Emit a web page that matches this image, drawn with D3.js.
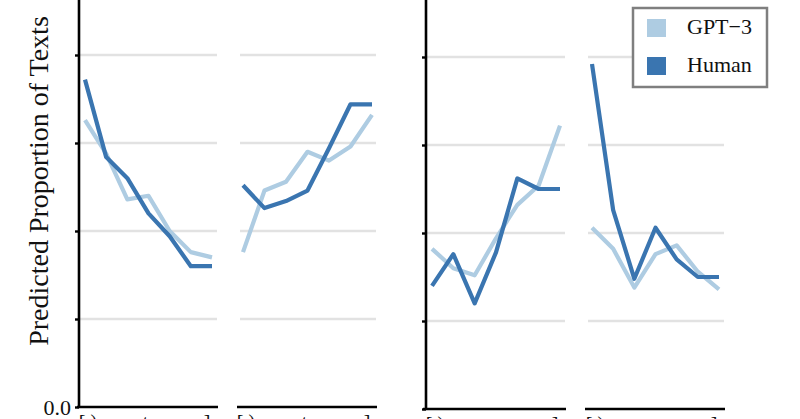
<!DOCTYPE html>
<html>
<head>
<meta charset="utf-8">
<script src="https://cdn.jsdelivr.net/npm/d3@7/dist/d3.min.js"></script>
<style>
  html, body { margin: 0; padding: 0; background: #fff; }
  svg { display: block; }
  text { font-family: "Liberation Serif", "DejaVu Serif", serif; fill: #111; }
</style>
</head>
<body>
<svg id="chart" width="800" height="419"></svg>
<script>
// ---- data ----
const categories = ["c1", "c2", "c3", "c4", "c5", "c6", "c7"];
const seriesNames = ["GPT\u22123", "Human"];
const yTickValues = [0, 0.05, 0.10, 0.15, 0.20];
const yTickLabels = ["0.0", "", "", "", ""];
const xTickCats = ["c1", "c4", "c7"];
const xTickLabels = ["[ )", "t", "]"];

const gpt3_p1  = [0.163, 0.144, 0.118, 0.120, 0.100, 0.088, 0.085];
const human_p1 = [0.186, 0.142, 0.130, 0.110, 0.097, 0.080, 0.080];
const gpt3_p2  = [0.088, 0.123, 0.128, 0.145, 0.140, 0.148, 0.166];
const human_p2 = [0.126, 0.113, 0.117, 0.123, 0.147, 0.172, 0.172];
const gpt3_p3  = [0.091, 0.080, 0.076, 0.097, 0.116, 0.127, 0.161];
const human_p3 = [0.070, 0.088, 0.060, 0.089, 0.131, 0.125, 0.125];
const gpt3_p4  = [0.103, 0.091, 0.069, 0.088, 0.093, 0.078, 0.068];
const human_p4 = [0.196, 0.113, 0.074, 0.103, 0.085, 0.075, 0.075];

// ---- layout ----
const colors = { gpt: "#aecce2", human: "#3a75b0" };
const svg = d3.select("#chart");

const panels = [
  { gpt: gpt3_p1, human: human_p1, x0: 77,  x1: 218, p0: 85,  p1: 212, y0: 407, yAxis: 79,  showLabels: true },
  { gpt: gpt3_p2, human: human_p2, x0: 237, x1: 377, p0: 243, p1: 372, y0: 407, yAxis: null, showLabels: false },
  { gpt: gpt3_p3, human: human_p3, x0: 423, x1: 566, p0: 432, p1: 560, y0: 409, yAxis: 426, showLabels: false },
  { gpt: gpt3_p4, human: human_p4, x0: 585, x1: 725, p0: 592, p1: 719, y0: 409, yAxis: null, showLabels: false }
];
const fragOffsets = [3, -3, -5];

panels.forEach(p => {
  const x = d3.scalePoint().domain(categories).range([p.p0, p.p1]);
  const y = d3.scaleLinear().domain([0, 0.25]).range([p.y0, p.y0 - 5 * 88]);
  const g = svg.append("g");

  // gridlines
  g.selectAll("line.grid").data(yTickValues.filter(v => v > 0)).join("line")
    .attr("x1", p.x0 + 3).attr("x2", p.x1 - 1)
    .attr("y1", d => y(d)).attr("y2", d => y(d))
    .attr("stroke", "#e2e2e2").attr("stroke-width", 2.5);

  // lines
  const line = d3.line().x((d, i) => x(categories[i])).y(d => y(d));
  g.append("path").datum(p.gpt).attr("d", line)
    .attr("fill", "none").attr("stroke", colors.gpt).attr("stroke-width", 4.2)
    .attr("stroke-linejoin", "round");
  g.append("path").datum(p.human).attr("d", line)
    .attr("fill", "none").attr("stroke", colors.human).attr("stroke-width", 4.2)
    .attr("stroke-linejoin", "round");

  // x axis line
  g.append("line").attr("x1", p.x0).attr("x2", p.x1)
    .attr("y1", y(0)).attr("y2", y(0))
    .attr("stroke", "#000").attr("stroke-width", 2.6);

  // x tick label fragments (cut by the lower edge, as in the reference)
  g.selectAll("text.xt").data(xTickCats).join("text")
    .attr("x", (d, i) => x(d) + fragOffsets[i]).attr("y", y(0) + 22)
    .attr("text-anchor", "middle").attr("font-size", 20)
    .text((d, i) => xTickLabels[i]);

  // y axis
  if (p.yAxis !== null) {
    const ax = d3.axisLeft(y).tickValues(yTickValues)
      .tickFormat((d, i) => p.showLabels ? yTickLabels[i] : "").tickSize(4).tickPadding(4);
    const ag = g.append("g").attr("transform", `translate(${p.yAxis},0)`).call(ax);
    ag.select(".domain").attr("stroke", "#000").attr("stroke-width", 2.6)
      .attr("d", `M0,${y(0.25)}V${y(0) + 1}`);
    ag.selectAll(".tick line").attr("stroke", "#000").attr("stroke-width", 2.4);
    ag.selectAll(".tick text")
      .style("font-family", '"Liberation Serif", "DejaVu Serif", serif')
      .attr("font-size", 22).attr("fill", "#111").attr("dy", "0.32em");
  }
});

// y title
svg.append("text")
  .attr("transform", "translate(48,181) rotate(-90)")
  .attr("text-anchor", "middle").attr("font-size", 28)
  .text("Predicted Proportion of Texts");

// legend
const lg = svg.append("g");
lg.append("rect").attr("x", 633).attr("y", 8).attr("width", 134).attr("height", 79)
  .attr("fill", "#fff").attr("stroke", "#7f7f7f").attr("stroke-width", 2.5);
const legendColors = [colors.gpt, colors.human];
seriesNames.forEach((name, i) => {
  lg.append("rect").attr("x", 647).attr("y", 19 + i * 38).attr("width", 19).attr("height", 18)
    .attr("fill", legendColors[i]);
  lg.append("text").attr("x", 687).attr("y", 34 + i * 38).attr("font-size", 22).text(name);
});
</script>
</body>
</html>
